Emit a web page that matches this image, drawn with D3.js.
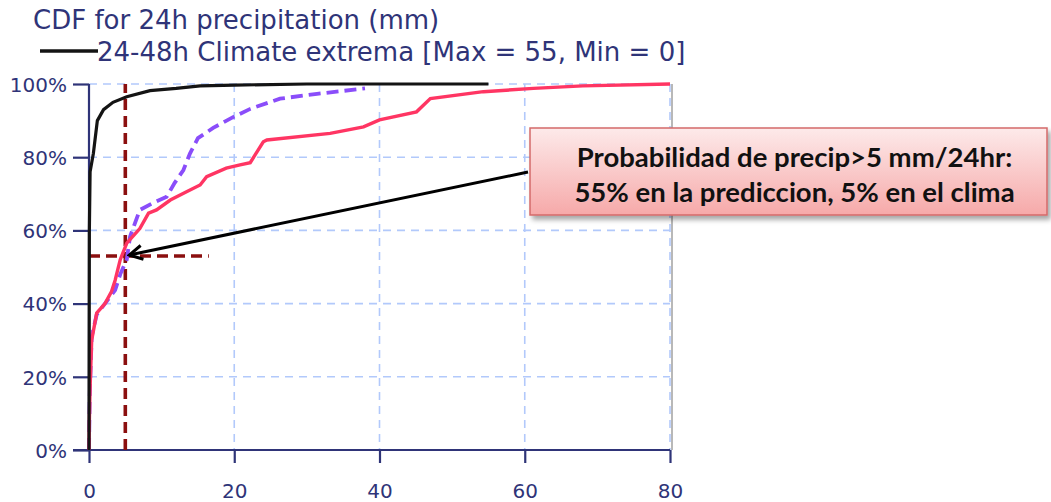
<!DOCTYPE html>
<html>
<head>
<meta charset="utf-8">
<script src="https://cdn.jsdelivr.net/npm/d3@7"></script>
<style>
  body { margin: 0; background: #fff; }
  svg { display: block; }
</style>
</head>
<body>
<script>
// data
var climateX = [0, 0.05, 0.15, 0.6, 1.15, 2, 3.3, 5.2, 8.4, 12, 15.3, 20, 30, 55];
var climateY = [0, 60, 76, 81, 90, 93, 95, 96.5, 98.2, 98.8, 99.5, 99.7, 100, 100];

var predX = [0, 0.1, 0.37, 1.06, 2.2, 3.6, 4.3, 5.2, 5.65, 7, 8.8, 10.7, 11.8, 13, 13.9, 15, 17.1, 19.9, 22.2, 26.3, 31.4, 38];
var predY = [0, 15, 31, 37, 40, 43.7, 48, 52, 58.3, 65.6, 67.5, 69.2, 73, 76.5, 81, 85.2, 88, 91, 93.2, 96, 97.3, 98.8];

var obsX = [0, 0.05, 0.14, 0.37, 1.06, 2.2, 3.1, 3.6, 4.3, 5.2, 7, 8.2, 9.3, 11.2, 13.5, 15.3, 16.2, 18.9, 20.8, 22.2, 24, 24.5, 33.2, 37.8, 40, 45.1, 47, 54.3, 61.2, 68, 80];
var obsY = [0, 8, 16.4, 30, 37.4, 40, 43.3, 46.4, 52, 56.5, 60.5, 64.7, 65.6, 68.3, 70.6, 72.4, 74.7, 77, 77.9, 78.5, 84.2, 84.7, 86.5, 88.3, 90.2, 92.4, 96, 97.9, 98.8, 99.5, 100];

var xTicks = [0, 20, 40, 60, 80];
var yTicks = [0, 20, 40, 60, 80, 100];

var threshold = 5;      // mm
var thresholdProb = 53; // %
var hLineEnd = 16.5;

var title = "CDF for 24h precipitation (mm)";
var legendText = "24-48h Climate extrema [Max = 55, Min = 0]";
var note = ["Probabilidad de precip>5 mm/24hr:", "55% en la prediccion, 5% en el clima"];

var W = 1051, H = 502;
var margin = {top: 84, left: 89, right: 381, bottom: 52};
var width = W - margin.left - margin.right,
    height = H - margin.top - margin.bottom;

var navy = "#2f3478";

var svg = d3.select("body").append("svg")
  .attr("width", W)
  .attr("height", H);

var defs = svg.append("defs");
var grad = defs.append("linearGradient").attr("id", "boxfill")
  .attr("x1", 0).attr("y1", 0).attr("x2", 0).attr("y2", 1);
grad.append("stop").attr("offset", "0%").attr("stop-color", "#fdeaea");
grad.append("stop").attr("offset", "100%").attr("stop-color", "#f6a9a9");

var shadow = defs.append("filter").attr("id", "shadow")
  .attr("x", "-5%").attr("y", "-10%").attr("width", "115%").attr("height", "140%");
shadow.append("feDropShadow").attr("dx", 3).attr("dy", 4).attr("stdDeviation", 2.5)
  .attr("flood-color", "#000").attr("flood-opacity", 0.35);

// chevron arrow head, tip at the end of the line
defs.append("marker").attr("id", "arrow")
  .attr("viewBox", "0 0 18 18").attr("refX", 16).attr("refY", 9)
  .attr("markerWidth", 18).attr("markerHeight", 18)
  .attr("markerUnits", "userSpaceOnUse")
  .attr("orient", "auto")
  .append("path")
    .attr("d", "M3,2 L16,9 L3,16")
    .attr("fill", "none").attr("stroke", "#000").attr("stroke-width", 3)
    .attr("stroke-linejoin", "miter");

var x = d3.scaleLinear().domain([0, 80]).range([0, width]);
var y = d3.scaleLinear().domain([0, 100]).range([height, 0]);

var g = svg.append("g")
  .attr("transform", "translate(" + margin.left + "," + margin.top + ")");

// grid
g.append("g").selectAll("line.gx")
  .data(xTicks.slice(1))
  .enter().append("line")
    .attr("x1", function(d) { return x(d); })
    .attr("x2", function(d) { return x(d); })
    .attr("y1", 0).attr("y2", height)
    .attr("stroke", "#b2c9fb").attr("stroke-width", 1.6)
    .attr("stroke-dasharray", "8,6");
g.append("g").selectAll("line.gy")
  .data(yTicks.slice(1))
  .enter().append("line")
    .attr("y1", function(d) { return y(d); })
    .attr("y2", function(d) { return y(d); })
    .attr("x1", 0).attr("x2", width)
    .attr("stroke", "#b2c9fb").attr("stroke-width", 1.6)
    .attr("stroke-dasharray", "8,6");

// right frame
g.append("line")
  .attr("x1", width + 2).attr("x2", width + 2)
  .attr("y1", 0).attr("y2", height)
  .attr("stroke", "#b8b8b8").attr("stroke-width", 2);

// axes
var yAxis = g.append("g")
  .call(d3.axisLeft(y).tickValues(yTicks).tickSize(16).tickPadding(6)
    .tickFormat(function(d) { return d + "%"; }));
var xAxis = g.append("g")
  .attr("transform", "translate(0," + height + ")")
  .call(d3.axisBottom(x).tickValues(xTicks).tickSize(13).tickPadding(21));
[xAxis, yAxis].forEach(function(a) {
  a.select(".domain").attr("stroke", navy).attr("stroke-width", 2.2);
  a.selectAll(".tick line").attr("stroke", navy).attr("stroke-width", 2.2);
  a.selectAll("text")
    .attr("fill", navy)
    .style("font-family", "DejaVu Sans")
    .style("font-size", "20px");
});
yAxis.selectAll("text").attr("dy", "0.36em");
xAxis.select(".domain").attr("d", "M-16,0H" + width);
yAxis.select(".domain").attr("d", "M0," + height + "V0");

var line = d3.line()
  .x(function(d) { return x(d[0]); })
  .y(function(d) { return y(d[1]); });

function pairs(xs, ys) { return xs.map(function(v, i) { return [v, ys[i]]; }); }

// threshold lines
g.append("line")
  .attr("x1", x(threshold)).attr("x2", x(threshold))
  .attr("y1", y(0)).attr("y2", y(100))
  .attr("stroke", "#8b0f0f").attr("stroke-width", 3.6)
  .attr("stroke-dasharray", "11,6");
g.append("line")
  .attr("x1", x(0)).attr("x2", x(hLineEnd))
  .attr("y1", y(thresholdProb)).attr("y2", y(thresholdProb))
  .attr("stroke", "#8b0f0f").attr("stroke-width", 3.6)
  .attr("stroke-dasharray", "11,6");

// curves
g.append("path")
  .datum(pairs(predX, predY))
  .attr("d", line)
  .attr("fill", "none")
  .attr("stroke", "#8a4dfa").attr("stroke-width", 3.8)
  .attr("stroke-dasharray", "12,6");
g.append("path")
  .datum(pairs(obsX, obsY))
  .attr("d", line)
  .attr("fill", "none")
  .attr("stroke", "#ff3563").attr("stroke-width", 3.4);
g.append("path")
  .datum(pairs(climateX, climateY))
  .attr("d", line)
  .attr("fill", "none")
  .attr("stroke", "#141414").attr("stroke-width", 3.2);

// title and legend
svg.append("text")
  .attr("x", 33).attr("y", 29)
  .attr("fill", navy)
  .style("font-family", "DejaVu Sans")
  .style("font-size", "26px")
  .text(title);
svg.append("line")
  .attr("x1", 40).attr("x2", 98)
  .attr("y1", 51).attr("y2", 51)
  .attr("stroke", "#141414").attr("stroke-width", 3.5);
svg.append("text")
  .attr("x", 97).attr("y", 61)
  .attr("fill", navy)
  .style("font-family", "DejaVu Sans")
  .style("font-size", "26px")
  .text(legendText);

// annotation
var box = {x: 530, y: 128, w: 517, h: 87};
svg.append("line")
  .attr("x1", box.x - 2).attr("y1", 172)
  .attr("x2", margin.left + x(threshold) + 4).attr("y2", margin.top + y(thresholdProb) - 1)
  .attr("stroke", "#000").attr("stroke-width", 3)
  .attr("marker-end", "url(#arrow)");
svg.append("rect")
  .attr("x", box.x).attr("y", box.y)
  .attr("width", box.w).attr("height", box.h)
  .attr("fill", "url(#boxfill)")
  .attr("stroke", "#d36a6a").attr("stroke-width", 1.5)
  .attr("filter", "url(#shadow)");
svg.append("g").selectAll("text")
  .data(note)
  .enter().append("text")
    .attr("x", box.x + box.w / 2 + 6)
    .attr("y", function(d, i) { return 167 + i * 35; })
    .attr("text-anchor", "middle")
    .attr("fill", "#111")
    .style("font-family", "Lato")
    .style("font-weight", "bold")
    .style("font-size", "27.5px")
    .text(function(d) { return d; });
</script>
</body>
</html>
